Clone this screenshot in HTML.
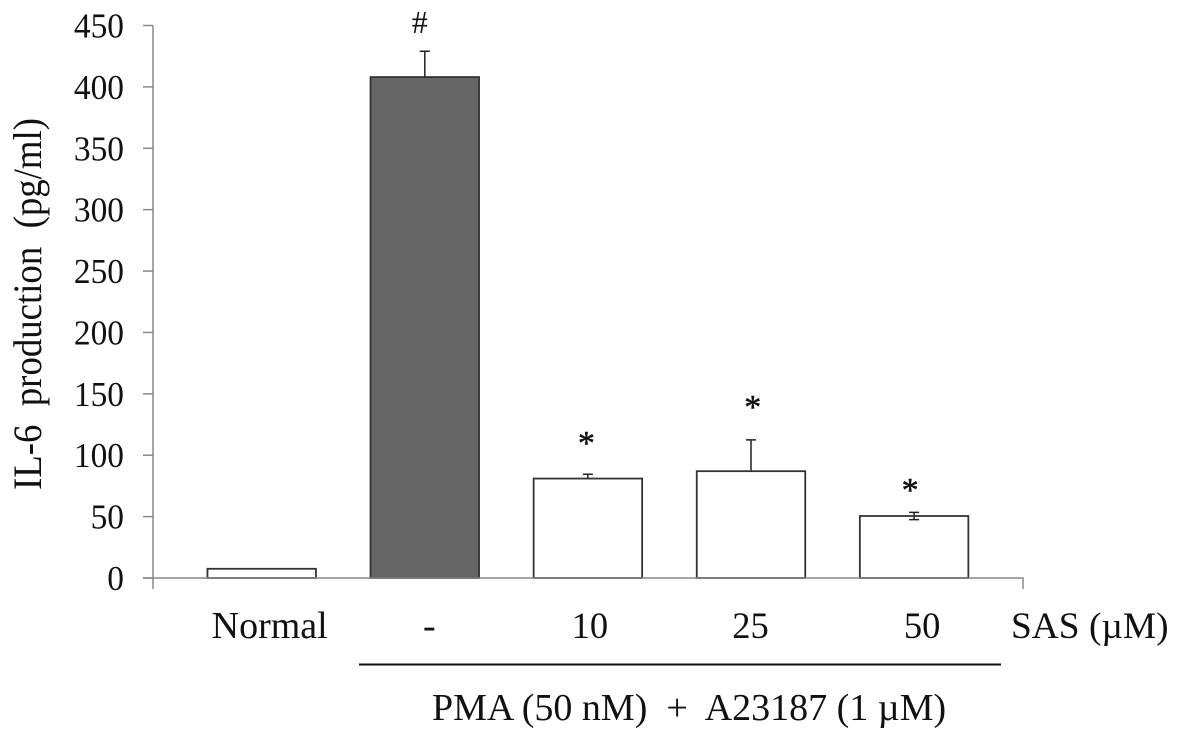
<!DOCTYPE html>
<html>
<head>
<meta charset="utf-8">
<style>
html,body{margin:0;padding:0;background:#fff;width:1181px;height:742px;overflow:hidden}
svg{display:block}
text{font-family:"Liberation Serif",serif;fill:#111;white-space:pre}
</style>
</head>
<body>
<svg id="chart" width="1181" height="742" viewBox="0 0 1181 742" xmlns="http://www.w3.org/2000/svg">
<rect x="0" y="0" width="1181" height="742" fill="#fff"/>
<g id="bars"></g>
<g id="axes"></g>
<g id="labels"></g>
<text transform="translate(41,304) rotate(-90)" text-anchor="middle" font-size="40" textLength="372" lengthAdjust="spacingAndGlyphs" xml:space="preserve">IL-6  production  (pg/ml)</text>
<text x="1011" y="638" font-size="37.4" xml:space="preserve">SAS (µM)</text>
<line x1="359" y1="664.5" x2="1001" y2="664.5" stroke="#111" stroke-width="2"/>
<text x="432" y="720" font-size="38" xml:space="preserve">PMA (50 nM)  +  A23187 (1 µM)</text>
</svg>
<script>
const categories = ["Normal", "-", "10", "25", "50"];
const values = [7.5, 408, 81, 87, 50.5];
const errorsUp = [0, 21, 3.5, 25.5, 3];
const errorsDown = [0, 0, 0, 0, 3];
const markers = ["", "#", "*", "*", "*"];
const markerValues = [0, 452, 112.4, 141.7, 74.1];
const yTicks = [0, 50, 100, 150, 200, 250, 300, 350, 400, 450];
const highlighted = [false, true, false, false, false];

const NS = "http://www.w3.org/2000/svg";
const yScale = v => 578 - v * (552.5 / 450);
const xCenter = i => 261.7 + i * 163.1;
const barWidth = 108.5;
const bars = document.getElementById("bars");
const axes = document.getElementById("axes");
const labels = document.getElementById("labels");

function make(tag, attrs, parent) {
  const el = document.createElementNS(NS, tag);
  for (const k in attrs) el.setAttribute(k, attrs[k]);
  parent.appendChild(el);
  return el;
}

function labelNudge(i) {
  return i === 0 ? 8 : i === 1 ? 4.5 : i === 2 ? 2 : i === 3 ? -0.5 : 8;
}
function markerNudge(i) {
  return i === 1 ? -5 : i === 2 ? -1.5 : i === 3 ? 1.7 : -4;
}

categories.forEach((c, i) => {
  const cx = xCenter(i);
  const top = yScale(values[i]);
  if (errorsUp[i] > 0) {
    const eTop = yScale(values[i] + errorsUp[i]);
    const eBot = yScale(values[i] - errorsDown[i]);
    let d = "M" + (cx - 5) + " " + eTop + "H" + (cx + 5) + "M" + cx + " " + eTop + "V" + eBot;
    if (errorsDown[i] > 0) d += "M" + (cx - 5) + " " + eBot + "H" + (cx + 5);
    const err = make("path", {d: d, fill: "none", stroke: "#222", "stroke-width": 1.5}, bars);
    
    
  }
  const bar = make("rect", {
    x: cx - barWidth / 2, y: top, width: barWidth, height: yScale(0) - top,
    fill: highlighted[i] ? "#666" : "#fff",
    "fill-opacity": highlighted[i] ? 1 : 0,
    stroke: "#333", "stroke-width": 1.8
  }, bars);
  
  

  const lab = make("text", {x: cx + labelNudge(i), y: 638, "text-anchor": "middle", "font-size": i < 2 ? 38 : 36.5}, labels);
  lab.textContent = c;
  
  

  if (markers[i]) {
    const isHash = markers[i] === "#";
    const m = make("text", {
      x: cx + markerNudge(i), y: yScale(markerValues[i]) + (isHash ? 10 : 14),
      "text-anchor": "middle", "font-size": isHash ? 32 : 34,
      stroke: "#111", "stroke-width": isHash ? 0 : 0.5
    }, labels);
    m.textContent = markers[i];
    
    
  }
});

yTicks.forEach(t => {
  const y = yScale(t);
  const tick = make("line", {x1: 143, x2: 153, y1: y, y2: y, stroke: "#888", "stroke-width": 1.5}, axes);
  
  
  const lab = make("text", {
    x: 124, y: y + 12, "text-anchor": "end", "font-size": 34.5,
    textLength: String(t).length * 16.7, lengthAdjust: "spacingAndGlyphs"
  }, labels);
  lab.textContent = t;
  
  
});

const yAxis = make("line", {x1: 153, x2: 153, y1: yScale(450), y2: 589, stroke: "#888", "stroke-width": 1.5}, axes);


const xAxis = make("path", {d: "M143 " + yScale(0) + "H1023V589", fill: "none", stroke: "#888", "stroke-width": 1.5}, axes);


</script>
</body>
</html>
